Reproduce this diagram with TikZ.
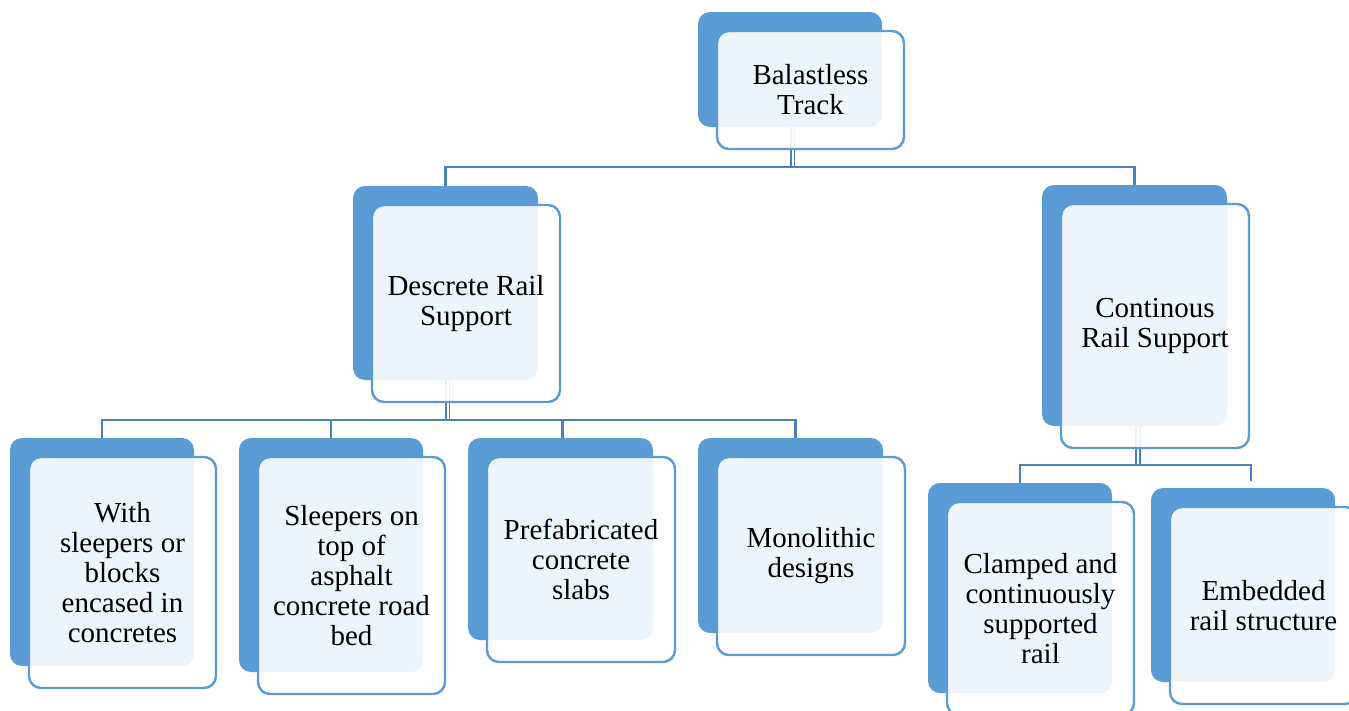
\documentclass[tikz,border=0pt]{standalone}
\usepackage{fontspec}
\setmainfont{Liberation Serif}
\usetikzlibrary{calc,backgrounds}
\definecolor{accent}{RGB}{91,155,213}
\definecolor{conncol}{RGB}{74,128,189}
\tikzset{
  backbox/.style={draw=none, fill=accent, rounded corners=12pt, inner sep=0pt, outer sep=0pt},
  frontbox/.style={draw=accent, line width=2.4pt, fill=white, fill opacity=0.9, text opacity=1,
    rounded corners=12pt, inner sep=0pt, outer sep=0pt, align=center,
    font=\fontsize{29}{30}\selectfont},
  conn/.style={draw=conncol, line width=2.8pt},
  dconn/.style={draw=conncol, line width=1.8pt, double=white, double distance=2pt},
}
\newcommand\mkbox[6]{%
  \pgfmathsetmacro\bw{#4-#2}%
  \pgfmathsetmacro\bh{#5-#3}%
  \pgfmathsetmacro\fw{#4-#2+3}%
  \pgfmathsetmacro\fh{#5-#3+3}%
  \pgfmathsetmacro\cx{(#2+#4)/2}%
  \pgfmathsetmacro\cy{(#3+#5)/2}%
  \node[backbox, minimum width=\bw pt, minimum height=\bh pt] (#1-b) at (\cx,\cy) {};
  \node[frontbox, minimum width=\fw pt, minimum height=\fh pt] (#1) at (\cx+20.5,\cy+20.5) {#6};
}
\begin{document}
\begin{tikzpicture}[x=1pt,y=-1pt]
\useasboundingbox (0,0) rectangle (1349,710);
\mkbox{bt}{698}{12}{882}{127}{Balastless\\Track}
\mkbox{dr}{353}{186}{538}{380}{Descrete Rail\\Support}
\mkbox{cr}{1042}{185}{1227}{426}{Continous\\Rail Support}
\mkbox{c1}{10}{438}{194}{666}{With\\sleepers or\\blocks\\encased in\\concretes}
\mkbox{c2}{239}{438}{423}{672}{Sleepers on\\top of\\asphalt\\concrete road\\bed}
\mkbox{c3}{468}{438}{653}{640}{Prefabricated\\concrete\\slabs}
\mkbox{c4}{698}{438}{883}{633}{Monolithic\\designs}
\mkbox{cl}{928}{483}{1112}{693}{Clamped and\\continuously\\supported\\rail}
\mkbox{em}{1151}{488}{1335}{682}{Embedded\\rail structure}
\begin{pgfonlayer}{background}
  % level 1
  \path (dr-b.north) ++(0,-19) coordinate (bus1);
  \draw[dconn] ([xshift=2.5pt]bt-b.south) -- ([xshift=2.5pt]bt-b.south |- bus1);
  \draw[conn] (dr-b.north) -- (bus1) -| (cr-b.north);
  % level 2
  \path (c1-b.north) ++(0,-18) coordinate (bus2);
  \draw[dconn] ([xshift=2pt]dr-b.south) -- ([xshift=2pt]dr-b.south |- bus2);
  \draw[conn] (c1-b.north) -- (bus2) -| ([xshift=5pt]c4-b.north);
  \draw[conn] (c2-b.north) -- (c2-b.north |- bus2);
  \draw[conn] ([xshift=2pt]c3-b.north) -- ([xshift=2pt]c3-b.north |- bus2);
  % level 3
  \path (cl-b.north) ++(0,-18) coordinate (bus3);
  \draw[dconn] ([xshift=3.5pt]cr-b.south) -- ([xshift=3.5pt]cr-b.south |- bus3);
  \draw[conn] (cl-b.north) -- (bus3) -| ([xshift=8pt,yshift=7pt]em-b.north);
\end{pgfonlayer}
\end{tikzpicture}
\end{document}
